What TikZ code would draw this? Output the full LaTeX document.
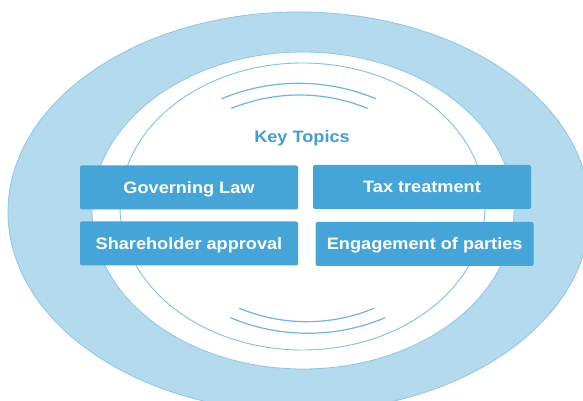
\documentclass[tikz,border=0pt]{standalone}
\usepackage{fontspec}
\setmainfont{Liberation Sans}
\newfontfamily\topicfont[FakeStretch=1.1]{Liberation Sans}
\begin{document}
\definecolor{ringfill}{HTML}{B4DAEE}
\definecolor{ringline}{HTML}{8CC6E6}
\definecolor{thinline}{HTML}{7EC0E6}
\definecolor{arcline}{HTML}{6BB6E2}
\definecolor{boxfill}{HTML}{45A5D8}
\definecolor{titleblue}{HTML}{3F9FD6}
\begin{tikzpicture}[x=1pt,y=1pt,
  topic/.style={rectangle, rounded corners=1.5pt, fill=boxfill,
    minimum width=218pt, minimum height=44pt, inner sep=0pt,
    text height=11.5pt, text depth=0pt, text=white,
    font=\topicfont\bfseries\fontsize{16.5}{18}\selectfont},
  title/.style={text=titleblue, inner sep=0pt, text height=11.5pt, text depth=0pt,
    font=\topicfont\bfseries\fontsize{16.5}{18}\selectfont},
  soundarc/.style={draw=arcline, line width=1.2pt, line cap=round}]
\useasboundingbox (0,0) rectangle (583,401);

% outer ring
\fill[ringfill, draw=ringline, line width=0.8pt] (299,189) ellipse [x radius=291pt, y radius=200pt];
\fill[white, draw=ringline, line width=0.8pt] (303,190.5) ellipse [x radius=211pt, y radius=158.5pt];

% thin inner ellipse
\draw[thinline, line width=0.9pt] (302.5,194.5) ellipse [x radius=182.5pt, y radius=143.5pt];

% arcs above the title
\coordinate (ta) at (298.7,117.5);
\coordinate (tb) at (299.5,126.5);
\draw[soundarc] (ta) ++(112.6:200.2pt) arc[start angle=112.6, end angle=67.4, radius=200.2pt];
\draw[soundarc] (tb) ++(112.2:179.5pt) arc[start angle=112.2, end angle=67.8, radius=179.5pt];

% arcs below the topics
\coordinate (ba) at (306.7,255.3);
\coordinate (bb) at (307.8,267.4);
\draw[soundarc] (ba) ++(247.5:176pt) arc[start angle=247.5, end angle=292.5, radius=176pt];
\draw[soundarc] (bb) ++(247.3:199.7pt) arc[start angle=247.3, end angle=292.7, radius=199.7pt];

% title and topic boxes
\node[title] (key) at (302,264) {Key Topics};
\node[topic] (gov) at (189,213.5) {Governing Law};
\node[topic] (tax) at (422,214) {Tax treatment};
\node[topic] (share) at (189,157.5) {Shareholder approval};
\node[topic] (eng) at (424.7,157) {Engagement of parties};
\end{tikzpicture}
\end{document}
